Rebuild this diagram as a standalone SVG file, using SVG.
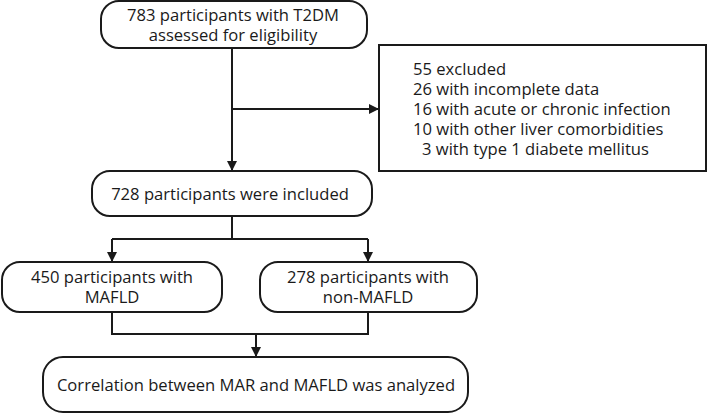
<svg xmlns="http://www.w3.org/2000/svg" width="708" height="416" viewBox="0 0 708 416">
<defs>
<style>
.box{fill:#fff;stroke:#1a1a1a;stroke-width:2}
.t{font-family:"Open Sans","Noto Sans","Liberation Sans",sans-serif;font-size:16.6px;fill:#1a1a1a}
.c{text-anchor:middle}
.ln{fill:none;stroke:#1a1a1a;stroke-width:2}
</style>
<marker id="ah" viewBox="0 0 10 10" refX="10" refY="5" markerWidth="10" markerHeight="10" markerUnits="userSpaceOnUse" orient="auto">
<path d="M0,0 L10,5 L0,10 Z" fill="#1a1a1a"/>
</marker>
</defs>
<rect width="708" height="416" fill="#fff"/>
<g id="connectors">
<path class="ln" d="M232,48 V171" marker-end="url(#ah)"/>
<path class="ln" d="M232,109 H379" marker-end="url(#ah)"/>
<path class="ln" d="M232,216 V239 M112,239 H368"/>
<path class="ln" d="M112,239 V262" marker-end="url(#ah)"/>
<path class="ln" d="M368,239 V262" marker-end="url(#ah)"/>
<path class="ln" d="M112,312 V334 H368 V312"/>
<path class="ln" d="M256,334 V357" marker-end="url(#ah)"/>
</g>
<g id="n1">
<rect class="box" x="101" y="1" width="266" height="47" rx="18"/>
<text class="t c" x="233" y="21">783 participants with T2DM</text>
<text class="t c" x="233" y="41">assessed for eligibility</text>
</g>
<g id="n2">
<rect class="box" x="379" y="45" width="327" height="126"/>
<text class="t" x="413" y="75">55 excluded</text>
<text class="t" x="413" y="95">26 with incomplete data</text>
<text class="t" x="413" y="115">16 with acute or chronic infection</text>
<text class="t" x="413" y="135">10 with other liver comorbidities</text>
<text class="t" x="422" y="155">3 with type 1 diabete mellitus</text>
</g>
<g id="n3">
<rect class="box" x="92" y="171" width="280" height="45" rx="18"/>
<text class="t c" x="230" y="200">728 participants were included</text>
</g>
<g id="n4">
<rect class="box" x="2" y="262" width="220" height="50" rx="18"/>
<text class="t c" x="112" y="283">450 participants with</text>
<text class="t c" x="112" y="303">MAFLD</text>
</g>
<g id="n5">
<rect class="box" x="260" y="262" width="217" height="50" rx="18"/>
<text class="t c" x="368" y="283">278 participants with</text>
<text class="t c" x="368" y="303">non-MAFLD</text>
</g>
<g id="n6">
<rect class="box" x="43" y="357" width="425" height="55" rx="20"/>
<text class="t c" x="256" y="391">Correlation between MAR and MAFLD was analyzed</text>
</g>
</svg>
